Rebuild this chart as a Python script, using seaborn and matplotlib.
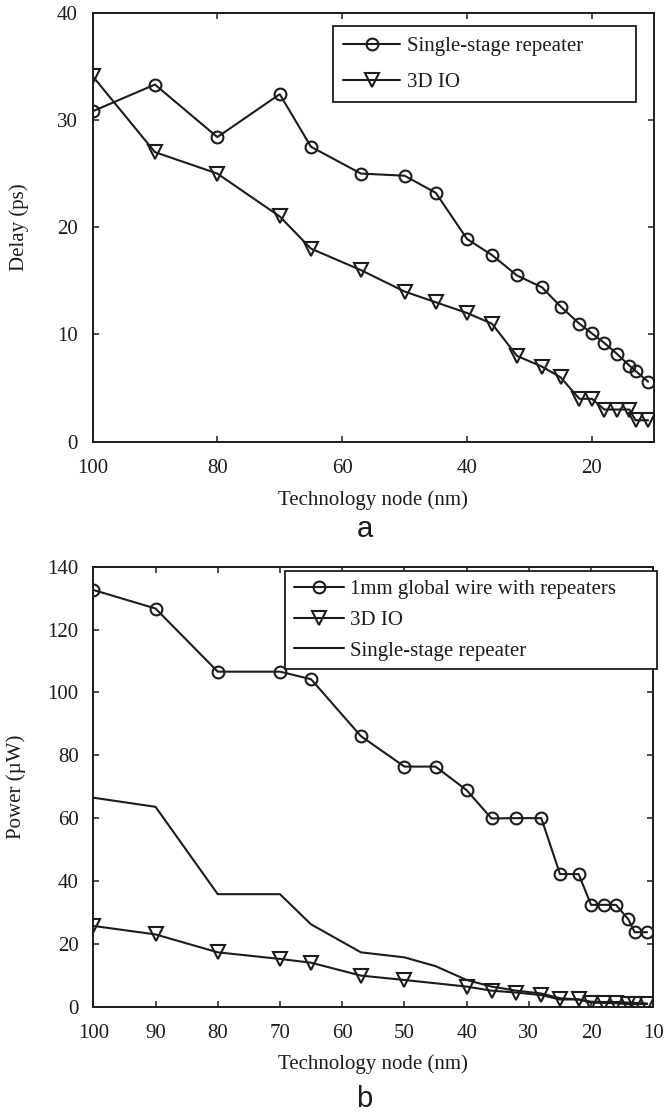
import matplotlib
matplotlib.use("Agg")
import matplotlib.pyplot as plt
import seaborn as sns
import pandas as pd

# ---------------- data ----------------
nodes = [100, 90, 80, 70, 65, 57, 50, 45, 40, 36, 32, 28, 25, 22, 20, 18, 16, 14, 13, 11]

delay_single = [30.8, 33.3, 28.4, 32.4, 27.5, 25.0, 24.8, 23.2, 18.9, 17.4, 15.5, 14.4,
                12.6, 11.0, 10.1, 9.2, 8.2, 7.1, 6.6, 5.6]
delay_3dio = [34.1, 27.0, 25.0, 21.0, 18.0, 16.0, 14.0, 13.0, 12.0, 11.0, 8.0, 7.0,
              6.0, 4.0, 4.0, 3.0, 3.0, 3.0, 2.0, 2.0]

power_global = [132.6, 126.7, 106.6, 106.6, 104.2, 86.1, 76.4, 76.4, 68.9, 59.9, 60.0, 60.0,
                42.2, 42.2, 32.4, 32.4, 32.4, 27.8, 23.7, 23.7]
nodes_3dio_b = [100, 90, 80, 70, 65, 57, 50, 40, 36, 32, 28, 25, 22, 20, 18, 16, 14, 13, 11]
power_3dio = [25.7, 23.0, 17.3, 15.2, 14.0, 9.9, 8.5, 6.4, 5.1, 4.5, 3.7, 2.3, 2.3, 1.3,
              1.2, 1.1, 0.8, 0.8, 0.9]
power_single = [66.5, 63.6, 35.8, 35.8, 26.2, 17.3, 15.7, 12.9, 8.5, 6.4, 5.1, 4.2,
                2.7, 2.3, 1.6, 1.5, 1.5, 1.3, 1.2, 1.0]

labels_a = ["Single-stage repeater", "3D IO"]
labels_b = ["1mm global wire with repeaters", "3D IO", "Single-stage repeater"]
xticks_a = [100, 80, 60, 40, 20]
xticks_b = [100, 90, 80, 70, 60, 50, 40, 30, 20, 10]
yticks_a = [0, 10, 20, 30, 40]
yticks_b = [0, 20, 40, 60, 80, 100, 120, 140]

# ---------------- style ----------------
sns.set_theme(style="ticks")
plt.rcParams["font.family"] = ["Liberation Serif", "DejaVu Serif"]
FS = 15
INK = "#1c1c1c"
LW = 1.5

W, H = 664, 1114
fig = plt.figure(figsize=(W / 100, H / 100), dpi=100)

def px_axes(l, t, r, b):
    return fig.add_axes([l / W, 1 - b / H, (r - l) / W, (b - t) / H])

ax1 = px_axes(92.5, 12.7, 654.3, 441.7)
ax2 = px_axes(93.3, 566.7, 653.3, 1006.7)

line_kw = dict(color=INK, linewidth=LW, markerfacecolor="none",
               markeredgecolor=INK, markeredgewidth=1.5, estimator=None, sort=False)

df_a = pd.DataFrame({"node": nodes, "single": delay_single, "io": delay_3dio})
sns.lineplot(data=df_a, x="node", y="single", marker="o", markersize=8.5,
             label=labels_a[0], ax=ax1, **line_kw)
sns.lineplot(data=df_a, x="node", y="io", marker="v", markersize=9.5,
             label=labels_a[1], ax=ax1, **line_kw)

df_b1 = pd.DataFrame({"node": nodes, "glob": power_global, "single": power_single})
df_b2 = pd.DataFrame({"node": nodes_3dio_b, "io": power_3dio})
sns.lineplot(data=df_b1, x="node", y="glob", marker="o", markersize=8.5,
             label=labels_b[0], ax=ax2, **line_kw)
sns.lineplot(data=df_b2, x="node", y="io", marker="v", markersize=9.5,
             label=labels_b[1], ax=ax2, **line_kw)
sns.lineplot(data=df_b1, x="node", y="single", label=labels_b[2], ax=ax2,
             color=INK, linewidth=LW, estimator=None, sort=False)

def style_axes(ax, xticks, yticks, ylim, ylabel, ylab_x):
    ax.set_xlim(100, 10)
    ax.set_ylim(*ylim)
    ax.set_xticks(xticks)
    ax.set_yticks(yticks)
    ax.tick_params(direction="in", length=4.5, width=1.1, colors=INK, labelsize=FS,
                   top=True, right=True, labelcolor=INK)
    ax.tick_params(axis="x", pad=12.5)
    ax.tick_params(axis="y", pad=10.5)
    for s in ax.spines.values():
        s.set_visible(True)
        s.set_linewidth(1.4)
        s.set_color(INK)
    ax.set_facecolor("white")
    ax.grid(False)
    ax.set_xlabel("Technology node (nm)", fontsize=FS, color=INK)
    ax.set_ylabel(ylabel, fontsize=FS, color=INK)
    ax.yaxis.set_label_coords(ylab_x, 0.5)

style_axes(ax1, xticks_a, yticks_a, (0, 40), "Delay (ps)", (29 - 92.5) / 561.8)
style_axes(ax2, xticks_b, yticks_b, (0, 140), "Power (\u00b5W)", (26 - 93.3) / 560)
ax1.xaxis.set_label_coords(0.5, (441.7 - 490) / 429)
ax2.xaxis.set_label_coords(0.5, (1006.7 - 1054) / 440)

leg_kw = dict(fontsize=FS, frameon=True, fancybox=False, framealpha=1,
              edgecolor=INK, handletextpad=0.32, borderaxespad=0, mode="expand")
x0, x1, y0, y1 = 332.7, 635.7, 26, 102.7
leg1 = ax1.legend(loc="upper left",
                  bbox_to_anchor=(x0 / W, 1 - y1 / H, (x1 - x0) / W, (y1 - y0) / H),
                  bbox_transform=fig.transFigure, handlelength=2.74,
                  labelspacing=0.78, borderpad=0.5, **leg_kw)
x0, x1, y0, y1 = 285, 656.7, 570.7, 668.3
leg2 = ax2.legend(loc="upper left",
                  bbox_to_anchor=(x0 / W, 1 - y1 / H, (x1 - x0) / W, (y1 - y0) / H),
                  bbox_transform=fig.transFigure, handlelength=2.4,
                  labelspacing=0.54, borderpad=0.42, **leg_kw)
for leg in (leg1, leg2):
    leg.get_frame().set_linewidth(1.3)
    for t in leg.get_texts():
        t.set_color(INK)

fig.text(364.5 / W, 1 - 536.7 / H, "a", fontsize=21, family="Liberation Sans",
         ha="center", va="baseline", color=INK)
fig.text(364.5 / W, 1 - 1107 / H, "b", fontsize=21, family="Liberation Sans",
         ha="center", va="baseline", color=INK)

fig.savefig("out.png", dpi=100, facecolor="white")
